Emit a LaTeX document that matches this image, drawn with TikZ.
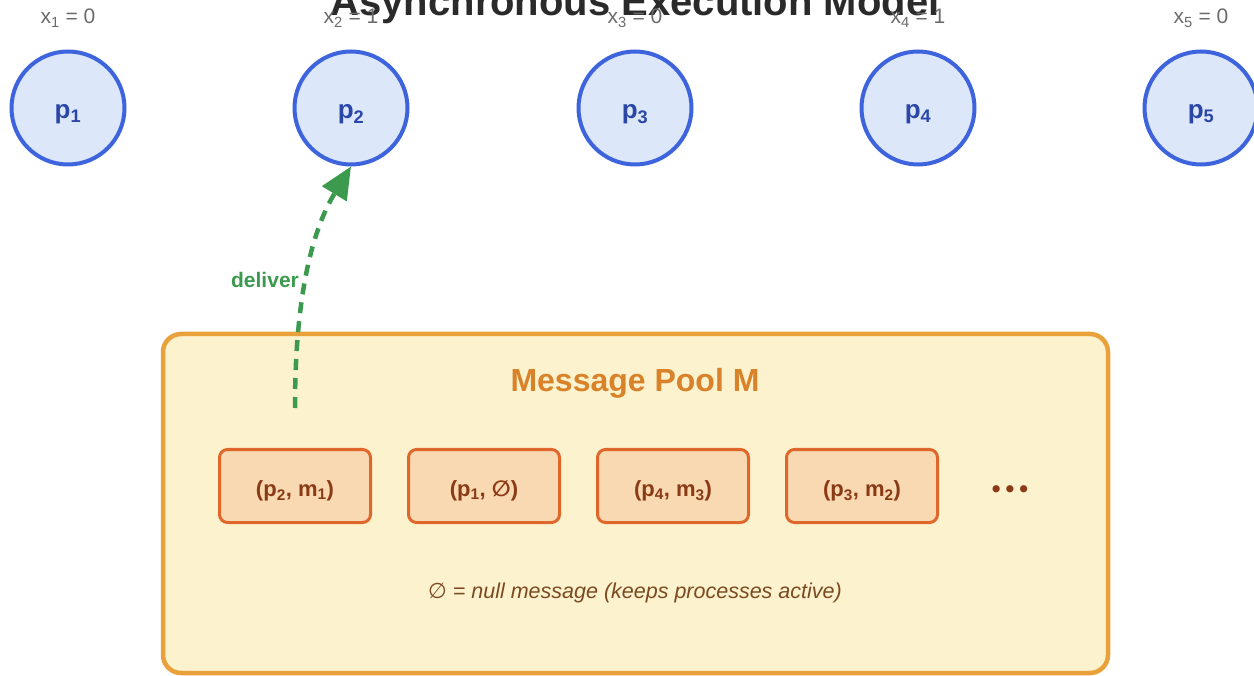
\documentclass[tikz,border=0pt]{standalone}
\usepackage{fontspec}
\setmainfont{Liberation Sans}
\newfontfamily\symfont{DejaVu Sans}
\usetikzlibrary{arrows.meta}
\definecolor{procline}{HTML}{3D63DD}
\definecolor{procfill}{HTML}{DDE7FA}
\definecolor{proctext}{HTML}{2A47A8}
\definecolor{delivgreen}{HTML}{3C9A4E}
\definecolor{poolline}{HTML}{E9A23B}
\definecolor{poolfill}{HTML}{FCF2CD}
\definecolor{pooltitle}{HTML}{D8822A}
\definecolor{msgline}{HTML}{E0672C}
\definecolor{msgfill}{HTML}{F8D9B1}
\definecolor{msgtext}{HTML}{8A3B16}
\definecolor{notetext}{HTML}{7B4A22}
\definecolor{statetext}{HTML}{6B6B6B}
\definecolor{titletext}{HTML}{2A2A2A}
\newcommand\lo[1]{\textsubscript{#1}}
\newcommand\nullset{{\symfont\char"2205}}
\tikzset{
  proc/.style={circle, draw=procline, fill=procfill, line width=4pt,
    minimum size=113pt, inner sep=0pt, text=proctext,
    text height=22pt, text depth=0pt,
    font=\fontsize{26}{30}\selectfont\bfseries},
  statelbl/.style={anchor=base, text=statetext, inner sep=0pt,
    font=\fontsize{21}{24}\selectfont},
  msgbox/.style={draw=msgline, fill=msgfill, line width=3pt, rounded corners=8pt,
    minimum width=151pt, minimum height=73pt, inner sep=0pt, text=msgtext,
    text height=21pt, text depth=0pt,
    font=\fontsize{22}{26}\selectfont\bfseries},
  deliverarrow/.style={draw=delivgreen, line width=4.5pt, dash pattern=on 11pt off 8pt,
    -{Triangle[length=32pt,width=28pt]}},
}
\begin{document}
\begin{tikzpicture}[x=1pt,y=-1pt]
\useasboundingbox (0,0) rectangle (1254,676);
\clip (0,0) rectangle (1254,676);

% title
\node[anchor=base, inner sep=0pt, text=titletext,
  font=\fontsize{40}{46}\selectfont\bfseries] (title) at (635,16)
  {Asynchronous Execution Model};

% processes and their states
\foreach \i/\x/\v in {1/68/0, 2/351/1, 3/635/0, 4/918/1, 5/1201/0}{
  \node[proc] (p\i) at (\x,108) {p\lo{\i}};
  \node[statelbl] (x\i) at (\x,24) {x\lo{\i} = \v};
}

% message pool
\node[draw=poolline, fill=poolfill, line width=4.5pt, rounded corners=18pt,
  minimum width=945pt, minimum height=339pt, inner sep=0pt] (pool) at (635.5,503.5) {};
\node[text=pooltitle, inner sep=0pt, font=\fontsize{32}{36}\selectfont\bfseries]
  (pooltitle) at (635,383) {Message Pool M};

\node[msgbox] (m1) at (295,486) {(p\lo{2}, m\lo{1})};
\node[msgbox] (m2) at (484,486) {(p\lo{1}, \nullset)};
\node[msgbox] (m3) at (673,486) {(p\lo{4}, m\lo{3})};
\node[msgbox] (m4) at (862,486) {(p\lo{3}, m\lo{2})};
\node[text=msgtext, inner sep=0pt, font=\fontsize{25}{30}\selectfont\bfseries]
  (more) at (1010,492) {•\hspace{5pt}•\hspace{5pt}•};

\node[text=notetext, inner sep=0pt, font=\fontsize{21.5}{25}\selectfont\itshape]
  (note) at (635,593) {\nullset{} = null message (keeps processes active)};

% delivery of a pending message
\coordinate (src) at (295,408);
\draw[deliverarrow] (src) .. controls (295,300) and (311,232) .. (p2.south);
\node[text=delivgreen, inner sep=0pt, font=\fontsize{21}{24}\selectfont\bfseries]
  (deliver) at (265,280) {deliver};
\end{tikzpicture}
\end{document}
